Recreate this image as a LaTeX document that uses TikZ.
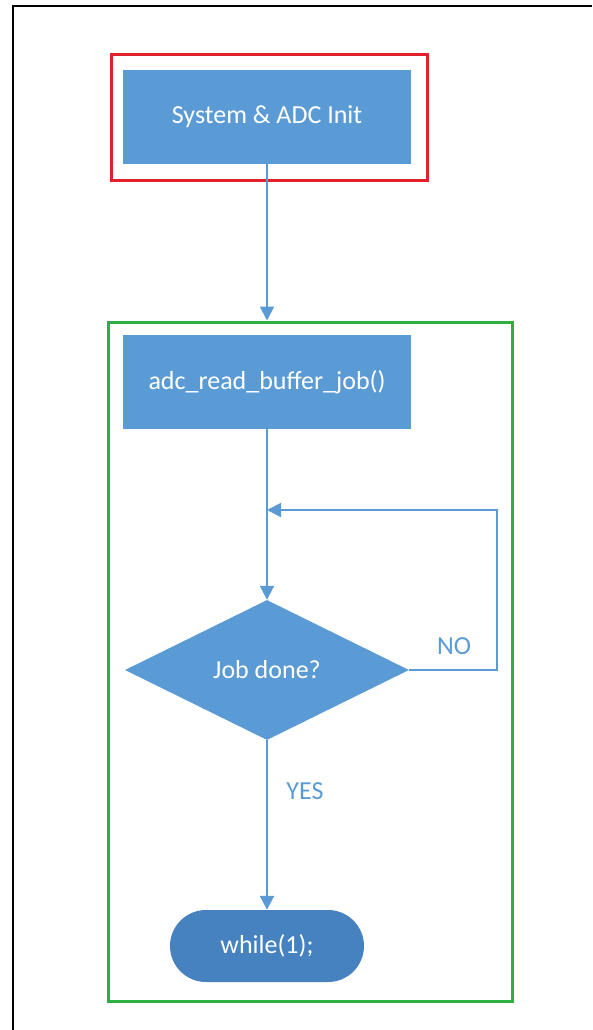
\documentclass[tikz,border=0pt]{standalone}
\usepackage{fontspec}
\setmainfont{Carlito}
\usetikzlibrary{arrows.meta,shapes.geometric,shapes.misc}
\definecolor{fcblue}{HTML}{5B9BD5}
\definecolor{fcdark}{HTML}{4682C0}
\definecolor{fcred}{HTML}{E0202A}
\definecolor{fcgreen}{HTML}{2DB040}
\tikzset{
  proc/.style={fill=fcblue, draw=none, minimum width=288pt, minimum height=94pt, text=white, font=\fontsize{26}{30}\selectfont, inner sep=0pt},
  decide/.style={diamond, fill=fcblue, draw=none, minimum width=284pt, minimum height=140pt, inner sep=0pt, text=white, font=\fontsize{26}{30}\selectfont},
  term/.style={rounded rectangle, fill=fcdark, draw=none, minimum width=194pt, minimum height=72pt, text=white, font=\fontsize{26}{30}\selectfont, inner sep=0pt},
  flow/.style={draw=fcblue, line width=2pt, -{Triangle[width=14pt,length=14pt]}},
  lbl/.style={text=fcblue, font=\fontsize{26}{30}\selectfont},
  frame/.style={line width=3pt}
}
\begin{document}
\begin{tikzpicture}[x=1pt,y=-1pt]
\useasboundingbox (0,0) rectangle (592,1030);
% outer frame (left and top edges)
\draw[line width=2.5pt] (13,1030) -- (13,6) -- (592,6);
% red and green frames
\node[draw=fcred, frame, minimum width=316pt, minimum height=125pt, inner sep=0pt] (redbox) at (269,117.5) {};
\node[draw=fcgreen, frame, minimum width=404pt, minimum height=679pt, inner sep=0pt] (greenbox) at (310,661.5) {};
% nodes
\node[proc] (init) at (267,117) {System \& ADC Init};
\node[proc] (job) at (267,382) {adc\_read\_buffer\_job()};
\node[decide] (dec) at (267,670) {Job done?};
\node[term] (stop) at (267,946) {while(1);};
\coordinate (loopin) at (267,510);
\coordinate (loopr) at (497,510);
\coordinate (loopd) at (497,670);
% connectors
\draw[flow] (init.south) -- (greenbox.north -| init.south);
\draw[draw=fcblue, line width=2pt] (job.south) -- (loopin);
\draw[flow] (loopin) -- (dec.north);
\draw[flow] (dec.east) -- (loopd) -- (loopr) -- (loopin);
\draw[flow] (dec.south) -- (stop.north);
% labels
\node[lbl] (no) at (454,646) {NO};
\node[lbl] (yes) at (305,791) {YES};
\end{tikzpicture}
\end{document}
